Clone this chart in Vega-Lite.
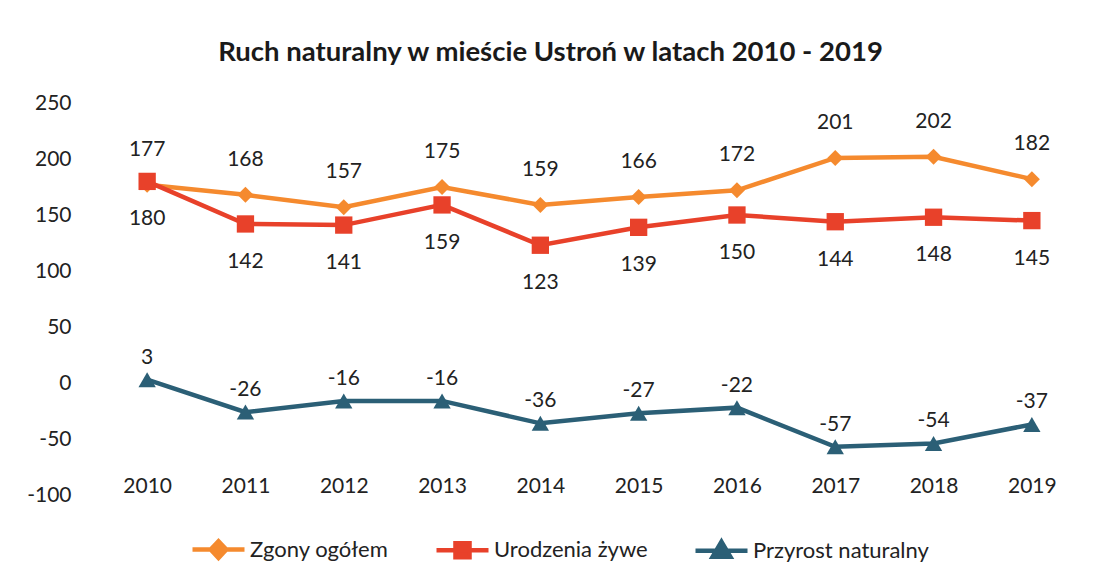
{
  "$schema": "https://vega.github.io/schema/vega-lite/v6.json",
  "autosize": {"type": "none"},
  "padding": {"left": 98, "top": 103, "right": 18, "bottom": 85},
  "width": 983,
  "height": 392,
  "background": "white",
  "config": {
    "font": "Lato",
    "view": {"stroke": null},
    "axis": {"labelFont": "Lato", "labelFontSize": 21, "labelColor": "#222222", "domain": false, "ticks": false, "grid": false, "title": null},
    "legend": {"symbolSize": 2704, "labelFont": "Lato", "labelFontSize": 22, "labelColor": "#222222", "labelOffset": 3, "labelLimit": 400, "columnPadding": 38, "symbolStrokeWidth": 4.5}
  },
  "title": {
    "text": "Ruch naturalny w mieście Ustroń w latach 2010 - 2019",
    "font": "Lato",
    "fontSize": 27.5,
    "fontWeight": "bold",
    "color": "#1a1a1a",
    "anchor": "middle",
    "dx": -39,
    "offset": 26
  },
  "data": {
    "values": [
      {"year": "2010", "series": "Zgony ogółem", "value": 177},
      {"year": "2011", "series": "Zgony ogółem", "value": 168},
      {"year": "2012", "series": "Zgony ogółem", "value": 157},
      {"year": "2013", "series": "Zgony ogółem", "value": 175},
      {"year": "2014", "series": "Zgony ogółem", "value": 159},
      {"year": "2015", "series": "Zgony ogółem", "value": 166},
      {"year": "2016", "series": "Zgony ogółem", "value": 172},
      {"year": "2017", "series": "Zgony ogółem", "value": 201},
      {"year": "2018", "series": "Zgony ogółem", "value": 202},
      {"year": "2019", "series": "Zgony ogółem", "value": 182},
      {"year": "2010", "series": "Urodzenia żywe", "value": 180},
      {"year": "2011", "series": "Urodzenia żywe", "value": 142},
      {"year": "2012", "series": "Urodzenia żywe", "value": 141},
      {"year": "2013", "series": "Urodzenia żywe", "value": 159},
      {"year": "2014", "series": "Urodzenia żywe", "value": 123},
      {"year": "2015", "series": "Urodzenia żywe", "value": 139},
      {"year": "2016", "series": "Urodzenia żywe", "value": 150},
      {"year": "2017", "series": "Urodzenia żywe", "value": 144},
      {"year": "2018", "series": "Urodzenia żywe", "value": 148},
      {"year": "2019", "series": "Urodzenia żywe", "value": 145},
      {"year": "2010", "series": "Przyrost naturalny", "value": 3},
      {"year": "2011", "series": "Przyrost naturalny", "value": -26},
      {"year": "2012", "series": "Przyrost naturalny", "value": -16},
      {"year": "2013", "series": "Przyrost naturalny", "value": -16},
      {"year": "2014", "series": "Przyrost naturalny", "value": -36},
      {"year": "2015", "series": "Przyrost naturalny", "value": -27},
      {"year": "2016", "series": "Przyrost naturalny", "value": -22},
      {"year": "2017", "series": "Przyrost naturalny", "value": -57},
      {"year": "2018", "series": "Przyrost naturalny", "value": -54},
      {"year": "2019", "series": "Przyrost naturalny", "value": -37}
    ]
  },
  "encoding": {
    "x": {"field": "year", "type": "ordinal", "scale": {"type": "point", "padding": 0.5}, "axis": {"labelAngle": 0, "offset": -22, "labelPadding": 2}},
    "y": {"field": "value", "type": "quantitative", "scale": {"domain": [-100, 250], "nice": false, "zero": false}, "axis": {"values": [-100, -50, 0, 50, 100, 150, 200, 250], "labelPadding": 27, "labelExpr": "'' + datum.value"}}
  },
  "layer": [
    {
      "mark": {"type": "line", "strokeWidth": 4.5},
      "encoding": {
        "color": {"field": "series", "type": "nominal", "scale": {"domain": ["Zgony ogółem", "Urodzenia żywe", "Przyrost naturalny"], "range": ["#F58A2E", "#E8412A", "#2B5F76"]}}
      }
    },
    {
      "transform": [{"filter": "datum.series === 'Zgony ogółem'"}],
      "mark": {"type": "point", "shape": "diamond", "filled": true, "opacity": 1, "size": 256},
      "encoding": {"color": {"field": "series", "type": "nominal"}}
    },
    {
      "transform": [{"filter": "datum.series === 'Urodzenia żywe'"}],
      "mark": {"type": "point", "shape": "square", "filled": true, "opacity": 1, "size": 300},
      "encoding": {"color": {"field": "series", "type": "nominal"}}
    },
    {
      "transform": [{"filter": "datum.series === 'Przyrost naturalny'"}],
      "mark": {"type": "point", "shape": "triangle-up", "filled": true, "opacity": 1, "size": 300},
      "encoding": {"color": {"field": "series", "type": "nominal"}}
    },
    {
      "transform": [{"filter": "datum.series === 'Zgony ogółem'"}],
      "mark": {"type": "text", "font": "Lato", "fontSize": 21, "color": "#222222", "dy": -35},
      "encoding": {"text": {"field": "value", "type": "nominal"}}
    },
    {
      "transform": [{"filter": "datum.series === 'Urodzenia żywe'"}],
      "mark": {"type": "text", "font": "Lato", "fontSize": 21, "color": "#222222", "dy": 38},
      "encoding": {"text": {"field": "value", "type": "nominal"}}
    },
    {
      "transform": [{"filter": "datum.series === 'Przyrost naturalny'"}],
      "mark": {"type": "text", "font": "Lato", "fontSize": 21, "color": "#222222", "dy": -22},
      "encoding": {"text": {"field": "value", "type": "nominal"}}
    },
    {
      "mark": {"type": "point", "filled": true, "opacity": 0},
      "encoding": {
        "color": {"field": "series", "type": "nominal"},
        "shape": {"field": "series", "type": "nominal", "scale": {"domain": ["Zgony ogółem", "Urodzenia żywe", "Przyrost naturalny"], "range": ["M-1,0H1M0,-0.32L0.3,0L0,0.32L-0.3,0Z", "M-1,0H1M-0.27,-0.27H0.27V0.27H-0.27Z", "M-1,0H1M0,-0.34L0.34,0.24H-0.34Z"]}, "legend": {"title": null, "orient": "none", "legendX": 92, "legendY": 418, "direction": "horizontal", "columns": 3, "encode": {"symbols": {"update": {"opacity": {"value": 1}, "fill": {"scale": "color", "field": "value"}, "stroke": {"scale": "color", "field": "value"}, "strokeWidth": {"value": 4.5}}}}}}
      }
    }
  ]
}
